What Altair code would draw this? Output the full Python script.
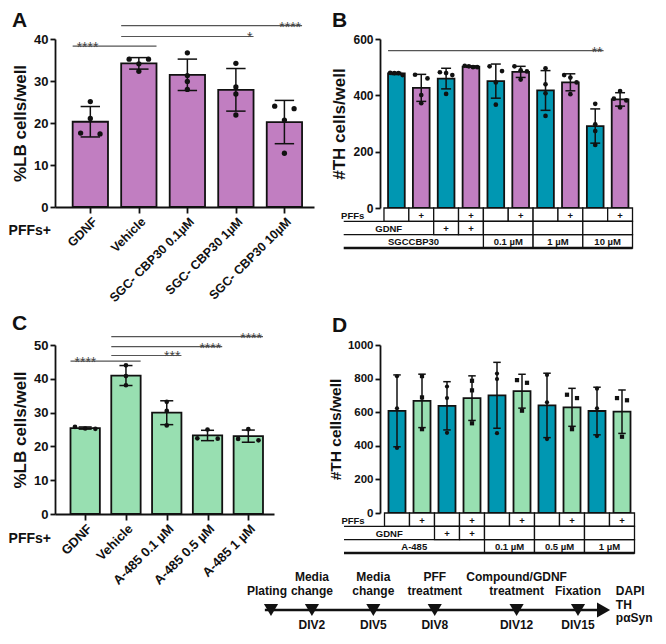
import json
import altair as alt
import pandas as pd

FONT = "Liberation Sans"
PURPLE = "#C17EC1"
TEAL = "#0097B2"
GREEN = "#98DFB1"
INK = "#111111"

# ---------------- Panel A ----------------
A_LABELS = ["GDNF", "Vehicle", "SGC- CBP30 0.1µM", "SGC- CBP30  1µM", "SGC- CBP30 10µM"]
A_VALUES = [
    [25.1, 21.1, 17.4, 17.6],
    [35.2, 35.2, 34.1, 32.3],
    [36.7, 31.3, 29.9, 28.0],
    [34.2, 28.6, 26.9, 21.9],
    [24.0, 23.4, 20.7, 12.8],
]
A_SIG_FROM = [0, 1, 1]
A_SIG_TO = [1, 3, 4]
A_SIG_Y = [38.3, 40.6, 43.2]
A_SIG_TEXT = ["****", "*", "****"]
A_SIG_SIDE = ["left", "right", "right"]

# ---------------- Panel B ----------------
B_PFF = ["", "+", "", "+", "", "+", "", "+", "", "+"]
B_VALUES = [
    [472, 479, 480, 479],
    [473, 460, 401, 372],
    [479, 472, 482, 405],
    [500, 505, 503, 500],
    [503, 486, 446, 367],
    [503, 489, 485, 456],
    [496, 439, 407, 327],
    [472, 463, 446, 404],
    [370, 297, 273, 224],
    [415, 388, 382, 357],
]
B_GDNF_CELLS = [("+", 2, 2), ("+", 3, 3), ("", 4, 5), ("", 6, 7), ("", 8, 9)]
B_DOSE_CELLS = [("0.1 µM", 4, 5), ("1 µM", 6, 7), ("10 µM", 8, 9)]
B_COMPOUND = "SGCCBP30"
B_SIG_FROM = [0]
B_SIG_TO = [8]
B_SIG_Y = [558.6]
B_SIG_TEXT = ["**"]
B_SIG_SIDE = ["right"]

# ---------------- Panel C ----------------
C_LABELS = ["GDNF", "Vehicle", "A-485 0.1 µM", "A-485 0.5 µM", "A-485 1 µM"]
C_VALUES = [
    [25.2, 25.8, 25.3],
    [44.0, 40.8, 38.1],
    [33.2, 30.5, 26.2],
    [25.0, 22.3, 22.4],
    [25.1, 21.8, 22.2],
]
C_SIG_FROM = [0, 1, 1, 1]
C_SIG_TO = [1, 2, 3, 4]
C_SIG_Y = [45.2, 46.9, 49.5, 52.5]
C_SIG_TEXT = ["****", "***", "****", "****"]
C_SIG_SIDE = ["left", "right", "right", "right"]

# ---------------- Panel D ----------------
D_PFF = ["", "+", "", "+", "", "+", "", "+", "", "+"]
D_VALUES = [
    [814, 623, 387],
    [815, 688, 499],
    [753, 684, 477],
    [787, 730, 534],
    [830, 797, 475],
    [791, 775, 609],
    [822, 659, 440],
    [704, 684, 499],
    [740, 623, 458],
    [684, 671, 454],
]
D_GDNF_CELLS = [("+", 2, 2), ("+", 3, 3), ("", 4, 5), ("", 6, 7), ("", 8, 9)]
D_DOSE_CELLS = [("0.1 µM", 4, 5), ("0.5 µM", 6, 7), ("1 µM", 8, 9)]
D_COMPOUND = "A-485"

TABLE_ROW_LABELS = ["PFFs", "GDNF"]
PFF_AXIS_LABEL = "PFFs+"
PANEL_LETTERS = ["A", "B", "C", "D"]

# ---------------- Timeline ----------------
TIMELINE_DIV = [0, 2, 5, 8, 12, 15]
TIMELINE_TOP = ["", "Media", "Media", "PFF", "Compound/GDNF", ""]
TIMELINE_MID = ["Plating", "change", "change", "treatment", "treatment", "Fixation"]
TIMELINE_BOTTOM = ["", "DIV2", "DIV5", "DIV8", "DIV12", "DIV15"]
READOUTS = ["DAPI", "TH", "pαSyn"]


def pts_df(values, pff=None):
    rows = []
    for i, vals in enumerate(values):
        for v in vals:
            rows.append({"g": i, "v": v, "pff": "+" if (pff and pff[i] == "+") else "-"})
    return pd.DataFrame(rows)


def yaxis(values, title, lsize=13, tsize=17):
    return alt.Axis(values=values, title=title, grid=False, domainColor=INK, domainWidth=1.8,
                    tickColor=INK, tickWidth=1.8, tickSize=5, labelFontSize=lsize,
                    labelFontWeight="bold", labelColor=INK, titleFontSize=tsize,
                    titleFontWeight="bold", titleColor=INK, titlePadding=4, labelPadding=2,
                    format="d")


def xaxis_cat(labels, size=12.5):
    return alt.Axis(values=list(range(len(labels))),
                    labelExpr=json.dumps(labels, ensure_ascii=False) + "[datum.value]",
                    labelAngle=-45, title=None, grid=False, domainColor=INK, domainWidth=1.8,
                    tickColor=INK, tickWidth=1.8, tickSize=6, labelFontSize=size,
                    labelFontWeight="bold", labelColor=INK, labelOverlap=False,
                    labelFlush=False, labelPadding=2)


def jitter(chart, th, spread):
    s = [alt.SortField(field="v", order="descending")]
    return (chart
            .transform_window(window=[alt.WindowFieldDef(op="lag", field="v", **{"as": "prev"})],
                              groupby=["g"], sort=s)
            .transform_calculate(start=f"(datum.prev == null || datum.prev - datum.v > {th}) ? 1 : 0")
            .transform_window(window=[alt.WindowFieldDef(op="sum", field="start", **{"as": "clus"})],
                              groupby=["g"], sort=s, frame=[None, 0])
            .transform_window(window=[alt.WindowFieldDef(op="row_number", **{"as": "rk"})],
                              groupby=["g", "clus"], sort=s)
            .transform_joinaggregate(cnt="count()", groupby=["g", "clus"])
            .transform_calculate(
                xo=f"datum.g + (datum.cnt > 1 ? ((datum.rk - 1) / (datum.cnt - 1) - 0.5) * {spread} : 0)"))


def core_layers(df, xs, ys, xax, yax, half, cap, th, spread, color_enc, shape_enc, dot):
    X = lambda f: alt.X(f + ":Q", scale=xs, axis=xax)
    Y = lambda f: alt.Y(f + ":Q", scale=ys, axis=yax)
    base = alt.Chart(df)
    agg = (base.transform_aggregate(m="mean(v)", sd="stdev(v)", groupby=["g", "pff"])
           .transform_calculate(x1=f"datum.g - {half}", x2=f"datum.g + {half}",
                                c1=f"datum.g - {cap}", c2=f"datum.g + {cap}",
                                lo="datum.m - datum.sd", hi="datum.m + datum.sd", zero="0"))
    bars = agg.mark_rect(stroke=INK, strokeWidth=1.8).encode(
        x=X("x1"), x2="x2:Q", y=Y("m"), y2="zero:Q", color=color_enc)
    stem = agg.mark_rule(color=INK, strokeWidth=1.5).encode(x=X("g"), y=Y("lo"), y2="hi:Q")
    cap_hi = agg.mark_rule(color=INK, strokeWidth=1.5).encode(x=X("c1"), x2="c2:Q", y=Y("hi"))
    cap_lo = agg.mark_rule(color=INK, strokeWidth=1.5).encode(x=X("c1"), x2="c2:Q", y=Y("lo"))
    pts = jitter(base, th, spread).mark_point(filled=True, size=dot, color=INK, opacity=1).encode(
        x=X("xo"), y=Y("v"), shape=shape_enc)
    return [bars, stem, cap_hi, cap_lo, pts]


def sig_layers(a, b, yv, txt, side, half, xs, ys, xax, yax):
    X = lambda f: alt.X(f + ":Q", scale=xs, axis=xax)
    Y = lambda f: alt.Y(f + ":Q", scale=ys, axis=yax)
    df = pd.DataFrame({"a": a, "b": b, "y": yv, "t": txt, "side": side})
    base = alt.Chart(df).transform_calculate(lo=f"datum.a - {half}", hi=f"datum.b + {half}")
    line = base.mark_rule(color="#555555", strokeWidth=1.2).encode(x=X("lo"), x2="hi:Q", y=Y("y"))
    left = base.transform_filter("datum.side == 'left'").mark_text(
        align="left", baseline="alphabetic", dx=4, dy=6, fontSize=14, color="#444444").encode(
        x=X("lo"), y=Y("y"), text="t:N")
    right = base.transform_filter("datum.side == 'right'").mark_text(
        align="right", baseline="alphabetic", dx=-1, dy=6, fontSize=14, color="#444444").encode(
        x=X("hi"), y=Y("y"), text="t:N")
    return [line, left, right]


def text_at(s, x, y, size, align="left", baseline="top"):
    return alt.Chart(pd.DataFrame({"t": [s]})).mark_text(
        align=align, baseline=baseline, fontSize=size, fontWeight="bold", color=INK).encode(
        text="t:N", x=alt.value(x), y=alt.value(y))


def table_layer(pff, gdnf_cells, dose_cells, compound, xs, H):
    TL = -2.12
    TR = len(pff) - 0.5
    cells = [dict(r=0, a=TL, b=-0.5, t=TABLE_ROW_LABELS[0], box=0)]
    for i, p in enumerate(pff):
        cells.append(dict(r=0, a=i - 0.5, b=i + 0.5, t=p, box=1))
    first = min(c[1] for c in gdnf_cells)
    cells.append(dict(r=1, a=TL, b=first - 0.5, t=TABLE_ROW_LABELS[1], box=0))
    for t, s, e in gdnf_cells:
        cells.append(dict(r=1, a=s - 0.5, b=e + 0.5, t=t, box=1))
    first = min(c[1] for c in dose_cells)
    cells.append(dict(r=2, a=TL, b=first - 0.5, t=compound, box=0))
    for t, s, e in dose_cells:
        cells.append(dict(r=2, a=s - 0.5, b=e + 0.5, t=t, box=1))
    cdf = pd.DataFrame(cells)
    ys = alt.Scale(domain=[0, 3], range=[H, H + 40], nice=False, zero=False)
    X = lambda f: alt.X(f + ":Q", scale=xs, axis=None)
    Y = lambda f: alt.Y(f + ":Q", scale=ys, axis=None)
    base = alt.Chart(cdf).transform_calculate(
        r1="datum.r + 1", rm="datum.r + 0.58",
        xm="(datum.r == 0 && datum.box == 0) ? (datum.a + datum.b) / 2 - 0.45 : (datum.a + datum.b) / 2")
    boxes = base.transform_filter("datum.box == 1").mark_rect(
        fill="white", stroke=INK, strokeWidth=1.3).encode(x=X("a"), x2="b:Q", y=Y("r"), y2="r1:Q")
    labels = base.transform_filter("datum.t != ''").mark_text(
        fontSize=9.5, fontWeight="bold", color=INK, baseline="middle").encode(
        x=X("xm"), y=Y("rm"), text="t:N")
    ldf = pd.DataFrame({"r": [1, 2, 3], "a": [TL] * 3, "b": [TR] * 3, "w": [1.3, 1.3, 2.6]})
    lines = alt.Chart(ldf).mark_rule(color=INK).encode(
        x=X("a"), x2="b:Q", y=Y("r"), strokeWidth=alt.StrokeWidth("w:Q", scale=None))
    return alt.layer(boxes, lines, labels)


def timeline_layer():
    tdf = pd.DataFrame({"d": TIMELINE_DIV, "top": TIMELINE_TOP, "mid": TIMELINE_MID,
                        "bot": TIMELINE_BOTTOM})
    d0, d1 = min(TIMELINE_DIV), max(TIMELINE_DIV)
    xs = alt.Scale(domain=[d0, d1], range=[-109, 198], nice=False, zero=False)
    X = lambda f: alt.X(f + ":Q", scale=xs, axis=None)
    base = alt.Chart(tdf)
    txt = dict(fontSize=12, fontWeight="bold", color=INK, baseline="middle")
    top = base.transform_filter("datum.top != ''").mark_text(**txt).encode(
        x=X("d"), y=alt.value(232), text="top:N")
    mid_first = base.transform_filter(f"datum.d == {d0}").mark_text(dx=-4, **txt).encode(
        x=X("d"), y=alt.value(246), text="mid:N")
    mid = base.transform_filter(f"datum.d != {d0}").mark_text(**txt).encode(
        x=X("d"), y=alt.value(246), text="mid:N")
    bot = base.transform_filter("datum.bot != ''").mark_text(**txt).encode(
        x=X("d"), y=alt.value(280), text="bot:N")
    adf = pd.DataFrame({"a": [d0 - 0.3], "b": [d1 + 1.25]})
    shaft = alt.Chart(adf).mark_rule(color=INK, strokeWidth=2.6).encode(
        x=X("a"), x2="b:Q", y=alt.value(265))
    head = alt.Chart(adf).mark_point(shape="triangle-right", filled=True, size=230,
                                     color=INK, opacity=1).encode(x=X("b"), y=alt.value(265))
    tri = base.mark_point(shape="triangle-down", filled=True, size=200, color=INK,
                          opacity=1).encode(x=X("d"), y=alt.value(265))
    rdf = pd.DataFrame({"t": READOUTS, "i": list(range(len(READOUTS))),
                        "d": [d1 + 1.85] * len(READOUTS)})
    readout = alt.Chart(rdf).mark_text(align="left", baseline="middle", fontSize=12,
                                       fontWeight="bold", color=INK).encode(
        x=X("d"), y=alt.Y("i:Q", scale=alt.Scale(domain=[0, len(READOUTS) - 1], range=[246, 273]),
                          axis=None), text="t:N")
    return alt.layer(shaft, head, tri, top, mid_first, mid, bot, readout)


# ---------------- Build A ----------------
A_W, A_H = 259, 168
xsA = alt.Scale(domain=[-0.728, 4.61], nice=False, zero=False)
ysA = alt.Scale(domain=[0, 40], nice=False)
xaA = xaxis_cat(A_LABELS, 12.5)
yaA = yaxis([0, 10, 20, 30, 40], "%LB cells/well", 13, 17)
A = alt.layer(
    *core_layers(pts_df(A_VALUES), xsA, ysA, xaA, yaA, 0.364, 0.2, 1.0, 0.4,
                 alt.value(PURPLE), alt.value("circle"), 28),
    *sig_layers(A_SIG_FROM, A_SIG_TO, A_SIG_Y, A_SIG_TEXT, A_SIG_SIDE, 0.364, xsA, ysA, xaA, yaA),
    text_at(PFF_AXIS_LABEL, -4, A_H + 24, 14, align="right", baseline="middle"),
    text_at(PANEL_LETTERS[0], -43, -29, 21),
).properties(width=A_W, height=A_H)

# ---------------- Build B ----------------
B_W, B_H = 254, 169
xsB = alt.Scale(domain=[-0.66, 9.56], nice=False, zero=False)
ysB = alt.Scale(domain=[0, 600], nice=False)
yaB = yaxis([0, 200, 400, 600], "#TH cells/well", 12, 17)
colB = alt.Color("pff:N", scale=alt.Scale(domain=["-", "+"], range=[TEAL, PURPLE]), legend=None)
B_core = alt.layer(
    *core_layers(pts_df(B_VALUES, B_PFF), xsB, ysB, None, yaB, 0.336, 0.2, 20, 0.5,
                 colB, alt.value("circle"), 22),
    *sig_layers(B_SIG_FROM, B_SIG_TO, B_SIG_Y, B_SIG_TEXT, B_SIG_SIDE, 0.336, xsB, ysB, None, yaB),
)
B = alt.layer(
    B_core,
    table_layer(B_PFF, B_GDNF_CELLS, B_DOSE_CELLS, B_COMPOUND, xsB, B_H),
    text_at(PANEL_LETTERS[1], -48, -29, 21),
).resolve_scale(x="independent", y="independent").properties(width=B_W, height=B_H)

# ---------------- Build C ----------------
C_W, C_H = 219, 169
xsC = alt.Scale(domain=[-0.74, 4.63], nice=False, zero=False)
ysC = alt.Scale(domain=[0, 50], nice=False)
xaC = xaxis_cat(C_LABELS, 13)
yaC = yaxis([0, 10, 20, 30, 40, 50], "%LB cells/well", 13, 17)
C = alt.layer(
    *core_layers(pts_df(C_VALUES), xsC, ysC, xaC, yaC, 0.36, 0.16, 1.4, 0.5,
                 alt.value(GREEN), alt.value("circle"), 22),
    *sig_layers(C_SIG_FROM, C_SIG_TO, C_SIG_Y, C_SIG_TEXT, C_SIG_SIDE, 0.36, xsC, ysC, xaC, yaC),
    text_at(PFF_AXIS_LABEL, -4, C_H + 25, 14, align="right", baseline="middle"),
    text_at(PANEL_LETTERS[2], -43, -32, 21),
).properties(width=C_W, height=C_H)

# ---------------- Build D ----------------
D_W, D_H = 257, 168
xsD = alt.Scale(domain=[-0.68, 9.6], nice=False, zero=False)
ysD = alt.Scale(domain=[0, 1000], nice=False)
yaD = yaxis([0, 200, 400, 600, 800, 1000], "#TH cells/well", 11.5, 15.5)
colD = alt.Color("pff:N", scale=alt.Scale(domain=["-", "+"], range=[TEAL, GREEN]), legend=None)
shpD = alt.Shape("pff:N", scale=alt.Scale(domain=["-", "+"], range=["circle", "square"]), legend=None)
D_core = alt.layer(
    *core_layers(pts_df(D_VALUES, D_PFF), xsD, ysD, None, yaD, 0.34, 0.15, 24, 0.4,
                 colD, shpD, 18),
)
D = alt.layer(
    D_core,
    table_layer(D_PFF, D_GDNF_CELLS, D_DOSE_CELLS, D_COMPOUND, xsD, D_H),
    timeline_layer(),
    text_at(PANEL_LETTERS[3], -48, -30, 21),
).resolve_scale(x="independent", y="independent").properties(width=D_W, height=D_H)

chart = alt.concat(
    A, B, C, D, columns=2, spacing={"row": 137, "column": 66}, bounds="flush"
).resolve_scale(color="independent", shape="independent").properties(
    padding={"top": 2, "left": 0, "right": 0, "bottom": 0}
).configure(font=FONT).configure_view(stroke=None)

chart.save("out.html", embed_options={"renderer": "svg", "actions": False})
